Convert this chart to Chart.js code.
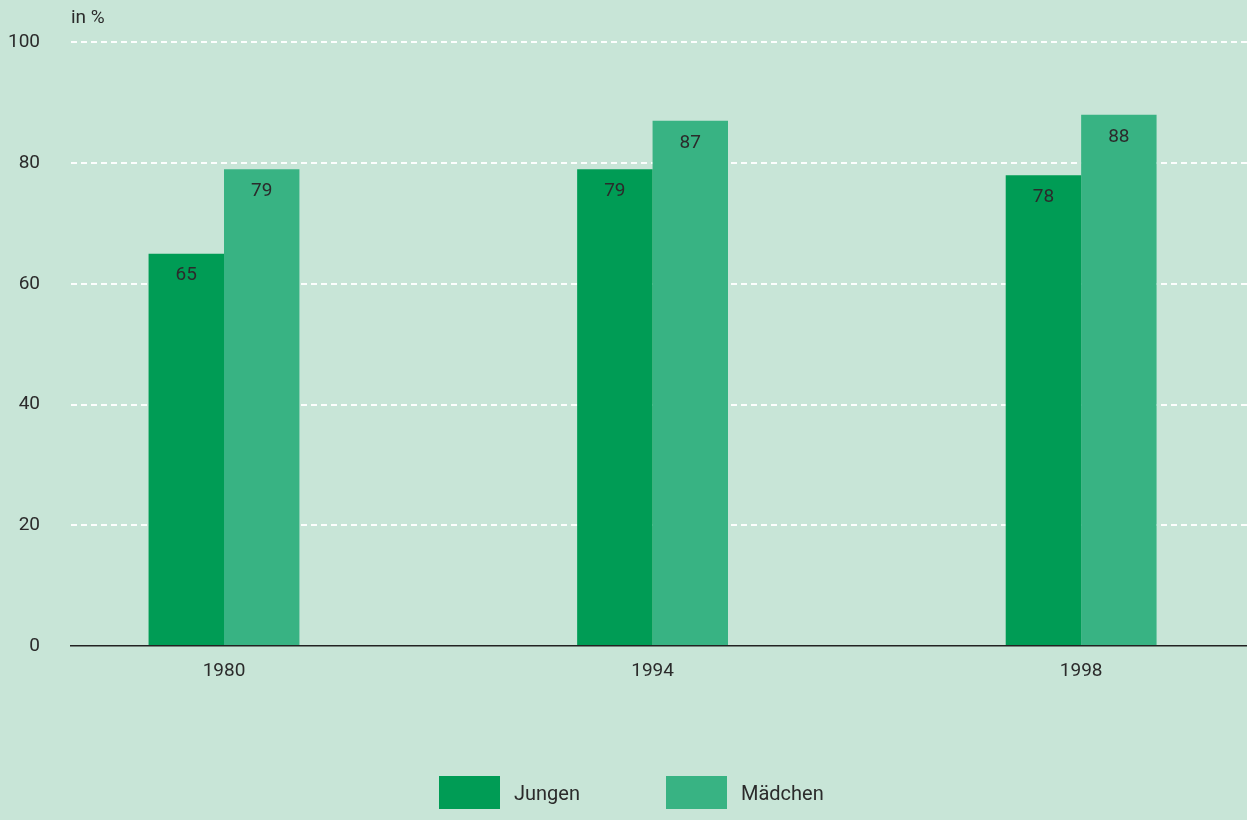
<!DOCTYPE html>
<html lang="de">
<head>
<meta charset="utf-8">
<title>Jungen und Mädchen</title>
<script src="https://cdn.jsdelivr.net/npm/chart.js@4/dist/chart.umd.min.js"></script>
<style>
    html, body { margin: 0; padding: 0; background: #c8e5d7; }
    #wrap { position: relative; width: 1247px; height: 820px; }
    #myChart { position: absolute; left: 0; top: 0; }
    #legend { position: absolute; left: 0; top: 776px; width: 1247px; height: 33px;
              font-family: Roboto, sans-serif; font-size: 20px; color: #2b2b2b; }
    .item { position: absolute; top: 0; height: 33px; display: flex; align-items: center; }
    .box { width: 61px; height: 33px; margin-right: 14px; }
</style>
</head>
<body>
<div id="wrap">
    <canvas id="myChart" width="1247" height="820"></canvas>
    <div id="legend"></div>
</div>
<script>
(function () {
    "use strict";

    const years = ['1980', '1994', '1998'];
    const jungen = [65, 79, 78];
    const maedchen = [79, 87, 88];
    const yTicks = [0, 20, 40, 60, 80, 100];

    const textColor = '#2b2b2b';
    const fontFamily = 'Roboto, sans-serif';

    // value labels just below the top of each bar
    const valueLabels = {
        id: 'valueLabels',
        afterDatasetsDraw(chart) {
            const ctx = chart.ctx;
            ctx.save();
            ctx.font = '19px ' + fontFamily;
            ctx.fillStyle = textColor;
            ctx.textAlign = 'center';
            ctx.textBaseline = 'middle';
            chart.data.datasets.forEach(function (ds, i) {
                chart.getDatasetMeta(i).data.forEach(function (bar, j) {
                    ctx.fillText(ds.data[j].y, bar.x, bar.y + 22);
                });
            });
            ctx.restore();
        }
    };

    // unit label above the y axis
    const unitLabel = {
        id: 'unitLabel',
        afterDraw(chart) {
            const ctx = chart.ctx;
            ctx.save();
            ctx.font = '19px ' + fontFamily;
            ctx.fillStyle = textColor;
            ctx.textAlign = 'left';
            ctx.textBaseline = 'middle';
            ctx.fillText('in %', chart.chartArea.left, 18);
            ctx.restore();
        }
    };

    const toPoints = arr => arr.map((v, i) => ({ x: i, y: v }));

    const datasets = [
        { label: 'Jungen', data: toPoints(jungen), backgroundColor: '#009c55' },
        { label: 'Mädchen', data: toPoints(maedchen), backgroundColor: '#38b383' }
    ];

    let ctx = document.getElementById('myChart').getContext('2d');
    let chart = new Chart(ctx, {
        type: 'bar',
        data: { datasets: datasets },
        plugins: [valueLabels, unitLabel],
        options: {
            responsive: false,
            animation: false,
            layout: { padding: { top: 39, right: 0, bottom: 134, left: 0 } },
            datasets: {
                bar: { barPercentage: 1, categoryPercentage: 0.352 }
            },
            plugins: {
                legend: { display: false },
                tooltip: { enabled: false }
            },
            scales: {
                x: {
                    type: 'linear',
                    offset: false,
                    min: -0.357,
                    max: 2.387,
                    afterBuildTicks: function (scale) {
                        scale.ticks = years.map((_, i) => ({ value: i }));
                    },
                    afterFit: function (scale) { scale.height = 40; },
                    grid: { display: false, drawTicks: false },
                    border: { display: true, color: '#222', width: 1.5 },
                    ticks: {
                        padding: 14,
                        color: textColor,
                        font: { family: fontFamily, size: 19 },
                        callback: v => years[v]
                    }
                },
                y: {
                    min: 0,
                    max: 100,
                    afterBuildTicks: function (scale) {
                        scale.ticks = yTicks.map(v => ({ value: v }));
                    },
                    afterFit: function (scale) { scale.width = 71; },
                    border: { display: false, dash: [6, 4] },
                    grid: {
                        drawTicks: false,
                        lineWidth: 2,
                        color: c => c.tick.value === 0 ? 'rgba(0,0,0,0)' : 'rgba(255,255,255,0.95)'
                    },
                    ticks: {
                        padding: 31,
                        color: textColor,
                        font: { family: fontFamily, size: 19 }
                    }
                }
            }
        }
    });

    // legend built from the datasets
    const legend = document.getElementById('legend');
    const itemLeft = [439, 666];
    chart.data.datasets.forEach(function (ds, i) {
        const item = document.createElement('div');
        item.className = 'item';
        item.style.left = itemLeft[i] + 'px';
        const box = document.createElement('div');
        box.className = 'box';
        box.style.background = ds.backgroundColor;
        const txt = document.createElement('span');
        txt.textContent = ds.label;
        item.appendChild(box);
        item.appendChild(txt);
        legend.appendChild(item);
    });
})();
</script>
</body>
</html>
